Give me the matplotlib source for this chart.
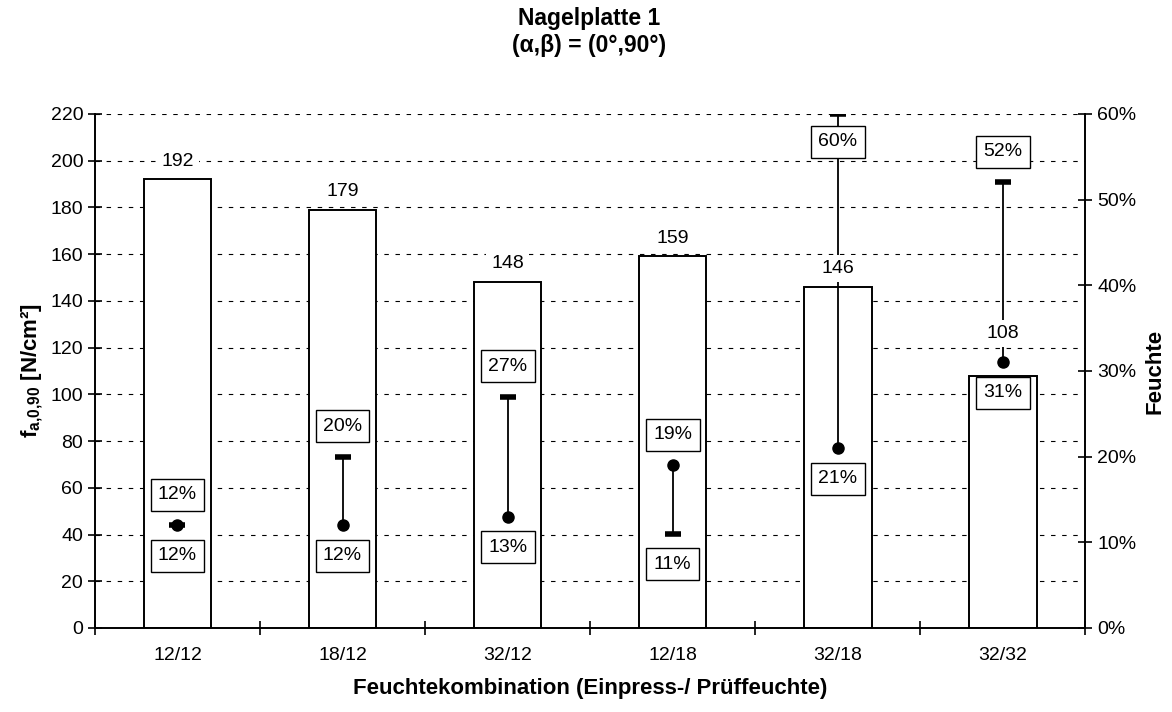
import matplotlib.pyplot as plt
from matplotlib.ticker import FuncFormatter, MultipleLocator

plt.rcParams['font.family'] = ['Liberation Sans', 'DejaVu Sans']
plt.rcParams['mathtext.fontset'] = 'custom'
plt.rcParams['mathtext.rm'] = 'Liberation Sans'
plt.rcParams['mathtext.bf'] = 'Liberation Sans:bold'

# Daten aus dem Diagramm
kombinationen = ['12/12', '18/12', '32/12', '12/18', '32/18', '32/32']
festigkeit = [192, 179, 148, 159, 146, 108]   # f_a,0,90 in N/cm²
einpressfeuchte = [12, 20, 27, 11, 60, 52]     # % (Strich)
prueffeuchte = [12, 12, 13, 19, 21, 31]        # % (Punkt)

fig = plt.figure(figsize=(11.72, 7.12), dpi=100)
ax = fig.add_axes([0.081, 0.118, 0.845, 0.722])
ax2 = ax.twinx()

x = list(range(len(kombinationen)))
YMAX, FMAX = 220, 60

# Balken
ax.bar(x, festigkeit, width=0.41, color='white', edgecolor='black', linewidth=1.4, zorder=2)
ax.set_xlim(-0.5, len(kombinationen) - 0.5)
ax.set_ylim(0, YMAX)
ax2.set_ylim(0, FMAX)

ax.yaxis.set_major_locator(MultipleLocator(20))
ax.grid(axis='y', linestyle=(0, (4, 6)), color='black', linewidth=0.8)
ax.set_axisbelow(True)

# Feuchte: Linie Einpress -> Prüf, im Koordinatensystem der rechten Achse
tr = ax2.transData
for i in x:
    e, p = einpressfeuchte[i], prueffeuchte[i]
    ax.plot([i, i], [e, p], color='black', linewidth=1.3, transform=tr, zorder=3)
    ax.plot(i, e, marker='_', markersize=12, markeredgewidth=4, color='black', transform=tr, zorder=7)
    ax.plot(i, p, marker='o', markersize=8, color='black', transform=tr, zorder=7)

    box = dict(boxstyle='square,pad=0.38', fc='white', ec='black', lw=1.0)
    hi, lo = (e, p) if e >= p else (p, e)
    off_hi = 22 if hi <= 55 else -20
    ax.annotate(f'{hi}%', (i, hi), xycoords=tr, xytext=(0, off_hi), textcoords='offset points',
                ha='center', va='center', fontsize=14, bbox=box, zorder=6)
    ax.annotate(f'{lo}%', (i, lo), xycoords=tr, xytext=(0, -22), textcoords='offset points',
                ha='center', va='center', fontsize=14, bbox=box, zorder=6)

# Balkenbeschriftung (weicht nach oben aus, wenn ein Feuchtepunkt direkt über dem Balken liegt)
for i, v in zip(x, festigkeit):
    p_links = prueffeuchte[i] * YMAX / FMAX
    off = 24 if v < p_links < v + 12 else 7
    ax.annotate(str(v), (i, v), xytext=(0, off), textcoords='offset points', ha='center', va='bottom',
                fontsize=14, bbox=dict(boxstyle='square,pad=0.25', fc='white', ec='none'), zorder=5)

# Achsen
ax.set_xticks(x)
ax.set_xticklabels(kombinationen, fontsize=14)
ax.set_xticks([i + 0.5 for i in [-1] + x], minor=True)
ax.tick_params(axis='x', which='major', length=0, pad=14)
ax.tick_params(axis='x', which='minor', direction='inout', length=10, width=1.2)
ax.tick_params(axis='y', direction='inout', length=10, width=1.2, labelsize=14)
ax2.tick_params(axis='y', direction='inout', length=10, width=1.2, labelsize=14)
ax2.yaxis.set_major_locator(MultipleLocator(10))
ax2.yaxis.set_major_formatter(FuncFormatter(lambda v, _: f'{v:.0f}%'))

for a in (ax, ax2):
    a.spines['top'].set_visible(False)
    for s in ('left', 'right', 'bottom'):
        a.spines[s].set_linewidth(1.4)
ax2.spines['left'].set_visible(False)
ax2.spines['bottom'].set_visible(False)
ax.spines['right'].set_visible(False)

ax.set_ylabel(r'$\mathbf{f_{a{,}0{,}90}}$ [N/cm²]', fontsize=16, fontweight='bold', labelpad=4)
ax2.set_ylabel('Feuchte', fontsize=16, fontweight='bold', labelpad=6)
ax.set_xlabel('Feuchtekombination (Einpress-/ Prüffeuchte)', fontsize=16, fontweight='bold', labelpad=10)
fig.suptitle('Nagelplatte 1\n(α,β) = (0°,90°)', fontsize=16.5, fontweight='bold', y=0.99, x=0.503)

fig.savefig('out.png', dpi=100)
